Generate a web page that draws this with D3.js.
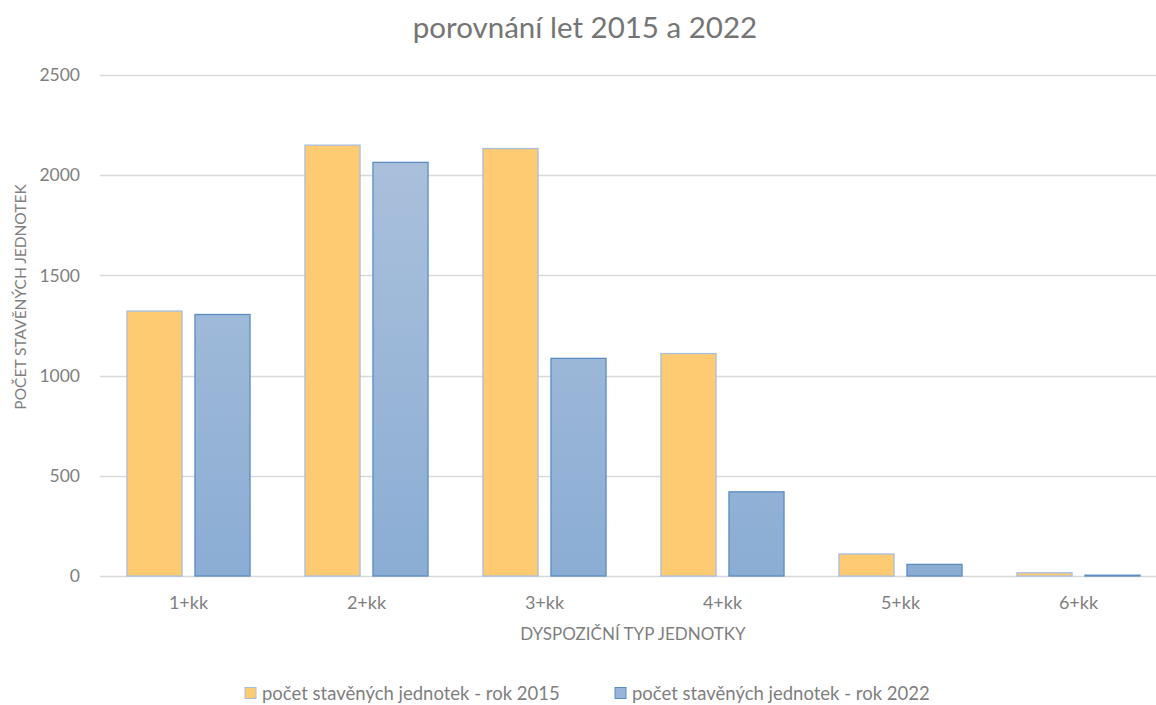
<!DOCTYPE html>
<html>
<head>
  <meta charset="UTF-8">
  <title>porovnání let 2015 a 2022</title>
  <script src="https://d3js.org/d3.v7.min.js"></script>
  <style>
    body {
      margin: 0;
      background: #fff;
      font-family: Lato, "Open Sans", sans-serif;
    }
    text {
      fill: #7f7f7f;
    }
  </style>
</head>
<body>
  <div id="chart"></div>
  <script>
    const categories = ["1+kk", "2+kk", "3+kk", "4+kk", "5+kk", "6+kk"];
    const seriesNames = ["počet stavěných jednotek - rok 2015", "počet stavěných jednotek - rok 2022"];
    const values2015 = [1322, 2150, 2133, 1110, 110, 16];
    const values2022 = [1305, 2064, 1086, 420, 58, 4];
    const yTicks = [0, 500, 1000, 1500, 2000, 2500];

    const width = 1156, height = 705;

    const svg = d3.select("#chart")
      .append("svg")
      .attr("width", width)
      .attr("height", height);

    const defs = svg.append("defs");
    const grad = defs.append("linearGradient")
      .attr("id", "blueGrad")
      .attr("x1", 0).attr("y1", 0).attr("x2", 0).attr("y2", 1)
      .attr("gradientUnits", "userSpaceOnUse");

    const x = d3.scaleBand()
      .domain(categories)
      .range([99.5, 1167.5])
      .paddingInner(0)
      .paddingOuter(0);

    const xSub = d3.scaleBand()
      .domain([0, 1])
      .range([0, x.bandwidth()])
      .paddingInner(0.19)
      .paddingOuter(0.404);

    const y = d3.scaleLinear()
      .domain([0, 2500])
      .range([576, 75]);

    grad.attr("y1", y(2500)).attr("y2", y(0));
    grad.append("stop").attr("offset", "0%").attr("stop-color", "#b0c4dd");
    grad.append("stop").attr("offset", "100%").attr("stop-color", "#8badd4");

    // gridlines
    svg.append("g")
      .selectAll("line")
      .data(yTicks)
      .join("line")
      .attr("x1", 100)
      .attr("x2", width)
      .attr("y1", d => Math.round(y(d)) + 0.5)
      .attr("y2", d => Math.round(y(d)) + 0.5)
      .attr("stroke", "#d9d9d9")
      .attr("stroke-width", 1.3);

    // y axis labels
    const yAxis = d3.axisLeft(y)
      .tickValues(yTicks)
      .tickFormat(d3.format("d"))
      .tickSize(0)
      .tickPadding(0);
    const gy = svg.append("g")
      .attr("transform", "translate(80,0)")
      .call(yAxis);
    gy.select(".domain").remove();
    gy.selectAll("text")
      .attr("fill", "#7f7f7f")
      .style("font-size", "17.5px")
      .style("font-family", "Lato, sans-serif");

    // x axis labels
    const xAxis = d3.axisBottom(x).tickSize(0).tickPadding(0);
    const gx = svg.append("g")
      .attr("transform", "translate(0,596)")
      .call(xAxis);
    gx.select(".domain").remove();
    gx.selectAll("text")
      .attr("fill", "#7f7f7f")
      .attr("dy", "0.71em")
      .style("font-size", "18px")
      .style("font-family", "Lato, sans-serif");

    const series = [
      { name: seriesNames[0], values: values2015, fill: "#fecb73", stroke: "#a6bfe0" },
      { name: seriesNames[1], values: values2022, fill: "url(#blueGrad)", stroke: "#5a8ec2" }
    ];

    series.forEach((s, si) => {
      svg.append("g")
        .selectAll("rect")
        .data(categories.map((c, i) => ({ cat: c, v: s.values[i] })))
        .join("rect")
        .attr("x", d => x(d.cat) + xSub(si))
        .attr("y", d => y(d.v))
        .attr("width", xSub.bandwidth())
        .attr("height", d => y(0) - y(d.v))
        .attr("fill", s.fill)
        .attr("stroke", s.stroke)
        .attr("stroke-width", 1.3);
    });

    // title
    svg.append("text")
      .attr("x", 585)
      .attr("y", 38)
      .attr("text-anchor", "middle")
      .style("font-size", "29.5px")
      .style("fill", "#757575")
      .text("porovnání let 2015 a 2022");

    // axis titles
    svg.append("text")
      .attr("x", 633)
      .attr("y", 640)
      .attr("text-anchor", "middle")
      .style("font-size", "17px")
      .text("DYSPOZIČNÍ TYP JEDNOTKY");

    svg.append("text")
      .attr("transform", "translate(26,297) rotate(-90)")
      .attr("text-anchor", "middle")
      .style("font-size", "15.5px")
      .text("POČET STAVĚNÝCH JEDNOTEK");

    // legend
    const legendX = [245, 615];
    const legend = svg.append("g");
    series.forEach((s, si) => {
      legend.append("rect")
        .attr("x", legendX[si])
        .attr("y", 687.5)
        .attr("width", 11)
        .attr("height", 11)
        .attr("fill", si === 0 ? "#fecb73" : "#99b4d8")
        .attr("stroke", s.stroke)
        .attr("stroke-width", 1);
      legend.append("text")
        .attr("x", legendX[si] + 17)
        .attr("y", 700)
        .style("font-size", "18.5px")
        .text(s.name);
    });
  </script>
</body>
</html>
